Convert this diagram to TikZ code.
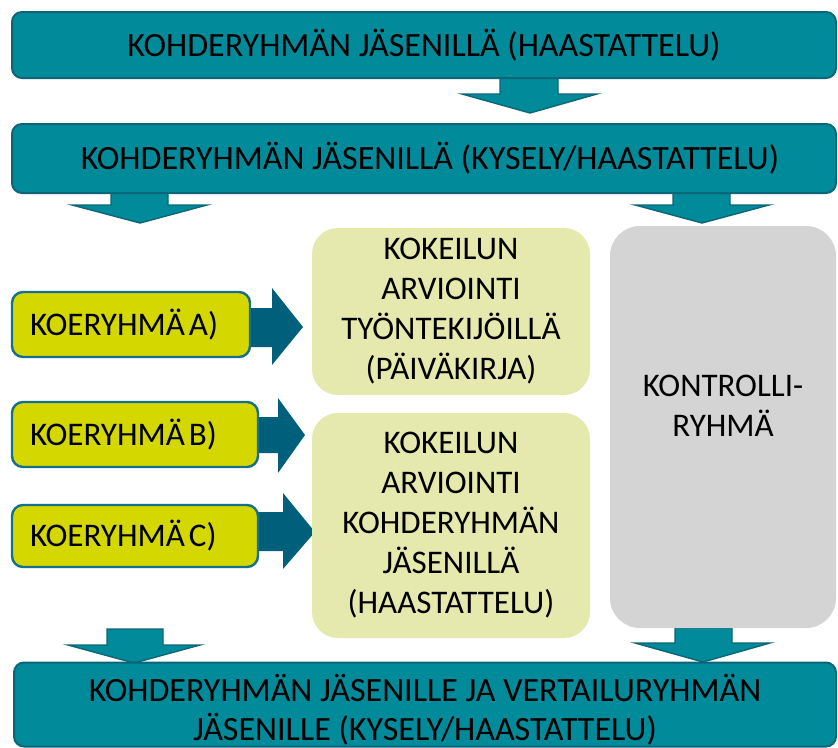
\documentclass[tikz,border=0pt]{standalone}
\usepackage{fontspec}
\setmainfont{Carlito}
\definecolor{tealfill}{HTML}{008A9A}
\definecolor{tealline}{HTML}{0C6677}
\definecolor{darkarrow}{HTML}{005F7B}
\definecolor{limefill}{HTML}{D4D700}
\definecolor{limeline}{HTML}{17708A}
\definecolor{palefill}{HTML}{E6E9AD}
\definecolor{greyfill}{HTML}{D4D4D4}
\tikzset{
  txt/.style={font=\fontsize{33}{40}\selectfont, text=black},
  tealbox/.style={txt, font=\fontsize{34}{38.5}\selectfont, draw=tealline, fill=tealfill, line width=2pt, rounded corners=10pt, align=center, inner sep=0pt},
  limebox/.style={txt, draw=limeline, fill=limefill, line width=2.4pt, rounded corners=11pt, align=left, inner ysep=0pt, inner xsep=18pt},
  palebox/.style={txt, fill=palefill, rounded corners=26pt, align=center, inner sep=0pt},
  greybox/.style={fill=greyfill, rounded corners=30pt, inner sep=0pt},
  downarrow/.style={fill=tealfill, draw=tealline, line width=1.4pt, line join=miter},
  rightarrow/.style={fill=darkarrow},
}
\begin{document}
\begin{tikzpicture}[x=1pt,y=-1pt]
\fill[white] (0,0) rectangle (838,747);
\useasboundingbox (0,0) rectangle (838,747);

% teal down arrows
\draw[downarrow] (500,70) -- (500,94) -- (462,94) -- (530,113) -- (597,94) -- (558,94) -- (558,70);
\draw[downarrow] (111,185) -- (111,205) -- (72,205) -- (140,223) -- (207,205) -- (168,205) -- (168,185);
\draw[downarrow] (673,185) -- (673,205) -- (635,205) -- (702,223) -- (769,205) -- (730,205) -- (730,185);
\draw[downarrow] (107,629) -- (107,645) -- (68,645) -- (134,663) -- (200,645) -- (163,645) -- (163,629) -- cycle;
\draw[downarrow] (675,628) -- (675,643) -- (635,643) -- (703,662) -- (770,643) -- (732,643) -- (732,628) -- cycle;

% dark right arrows
\fill[rightarrow] (245,308) -- (272,308) -- (272,288) -- (303,327) -- (272,365) -- (272,347) -- (245,347) -- cycle;
\fill[rightarrow] (253,417) -- (278,417) -- (278,398) -- (305,435) -- (278,473) -- (278,453) -- (253,453) -- cycle;
\fill[rightarrow] (253,512) -- (283,512) -- (283,493) -- (315,532) -- (283,569) -- (283,551) -- (253,551) -- cycle;

% teal boxes
\node[tealbox, minimum width=824pt, minimum height=66pt] (b1) at (424,45) {KOHDERYHMÄN JÄSENILLÄ (HAASTATTELU)};
\node[tealbox, minimum width=824pt, minimum height=69pt] (b2) at (424,158.5) {\hspace{12pt}KOHDERYHMÄN JÄSENILLÄ (KYSELY/HAASTATTELU)};
\node[tealbox, minimum width=822pt, minimum height=84pt] (b3) at (425,704.5) {};
\node[txt, font=\fontsize{34}{38.5}\selectfont, align=center] (b3t) at (425,709.5) {KOHDERYHMÄN JÄSENILLE JA VERTAILURYHMÄN\\JÄSENILLE (KYSELY/HAASTATTELU)};

% lime boxes
\node[limebox, minimum height=65pt, text width=202pt] (ka) at (131,324.5) {KOERYHMÄ\hspace{4pt}A)};
\node[limebox, minimum height=65pt, text width=210pt] (kb) at (135,434.5) {KOERYHMÄ\hspace{4pt}B)};
\node[limebox, minimum height=62pt, text width=210pt] (kc) at (135,536) {KOERYHMÄ\hspace{4pt}C)};

% pale boxes
\node[palebox, minimum width=278pt, minimum height=167pt] (p1) at (451,311.5) {KOKEILUN\\ARVIOINTI\\TYÖNTEKIJÖILLÄ\\(PÄIVÄKIRJA)};
\node[palebox, minimum width=278pt, minimum height=225pt] (p2) at (451,525.5) {KOKEILUN\\ARVIOINTI\\KOHDERYHMÄN\\JÄSENILLÄ\\(HAASTATTELU)};

% grey box
\node[greybox, minimum width=226pt, minimum height=402pt] (g) at (723,427) {};
\node[txt, align=center] (gt) at (723,406) {KONTROLLI-\\RYHMÄ};
\end{tikzpicture}
\end{document}
